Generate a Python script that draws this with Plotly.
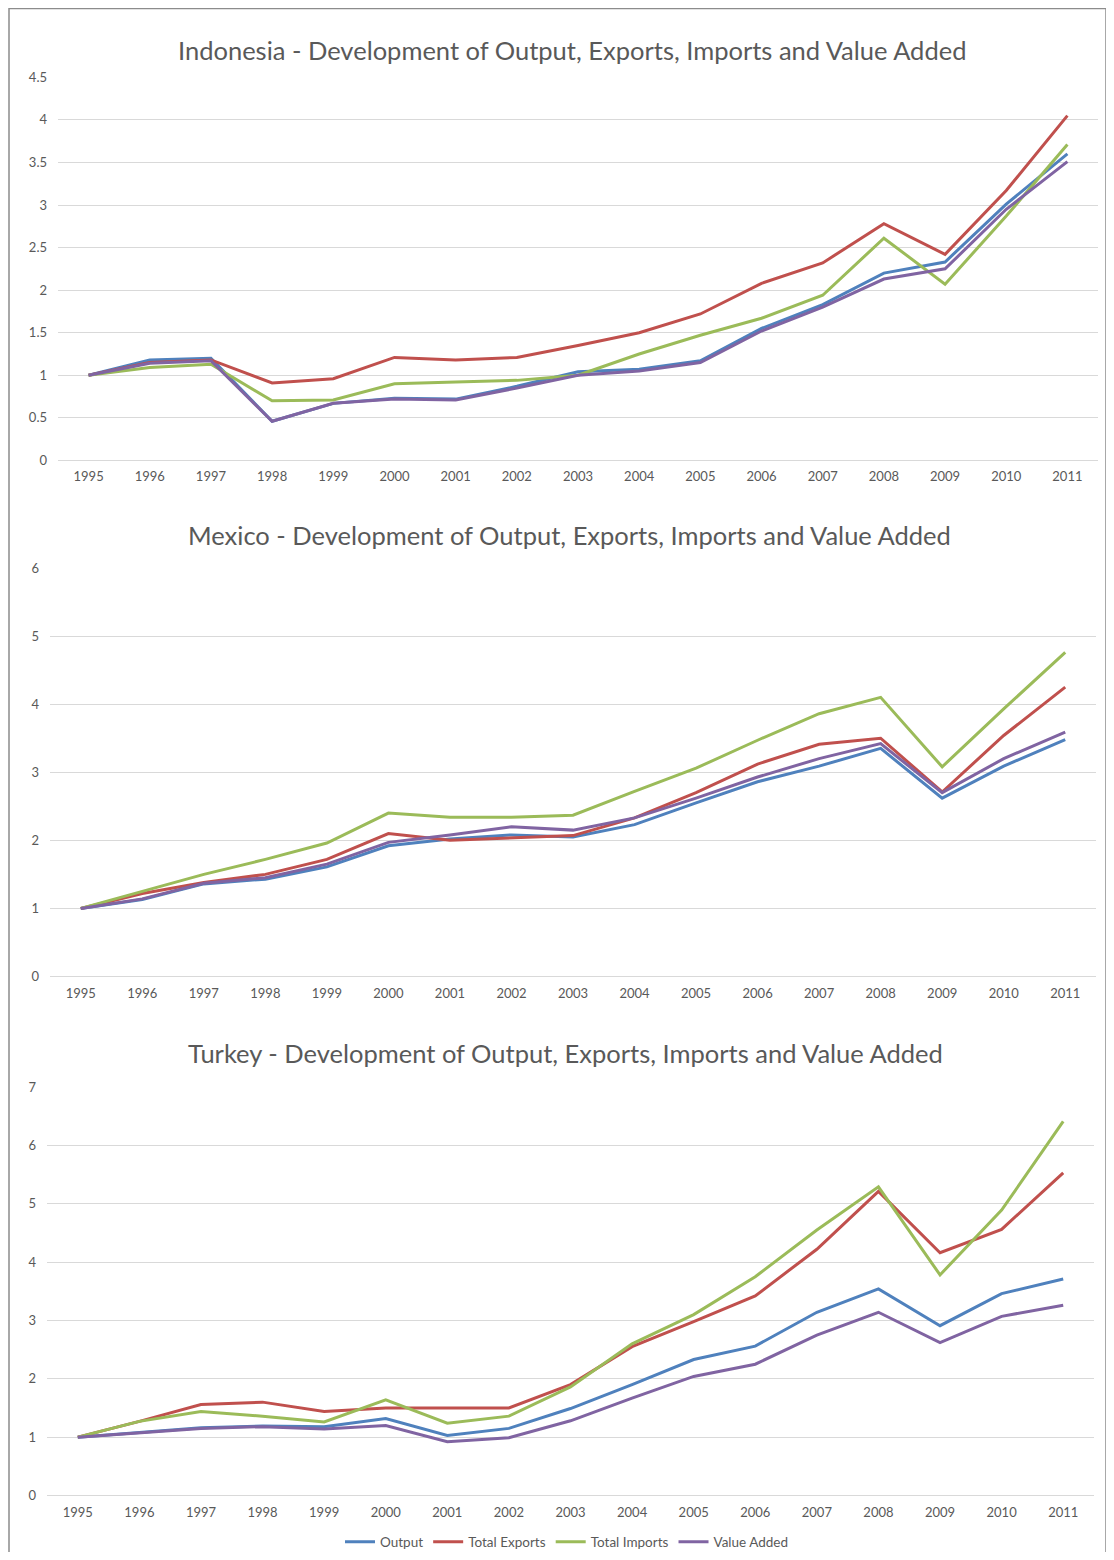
import plotly.graph_objects as go

# Excel 2007 palette
BLUE = "#4F81BD"
RED = "#C0504D"
GREEN = "#9BBB59"
PURPLE = "#8064A2"
GRID = "#D9D9D9"
TEXT = "#595959"
FONT = "Lato, 'Open Sans', sans-serif"

# page body keeps its default 8px margin, so the figure is 16px smaller
OFF = 8
W, H = 1114 - 2 * OFF, 1560 - 2 * OFF

years = [str(y) for y in range(1995, 2012)]
series_names = ["Output", "Total Exports", "Total Imports", "Value Added"]
series_colors = [BLUE, RED, GREEN, PURPLE]

# Indonesia
idn_output = [1.0, 1.18, 1.2, 0.46, 0.67, 0.73, 0.72, 0.87, 1.04, 1.07, 1.17, 1.55, 1.83, 2.2, 2.33, 3.01, 3.6]
idn_exports = [1.0, 1.15, 1.18, 0.91, 0.96, 1.21, 1.18, 1.21, 1.35, 1.5, 1.72, 2.08, 2.32, 2.78, 2.42, 3.17, 4.05]
idn_imports = [1.0, 1.09, 1.13, 0.7, 0.71, 0.9, 0.92, 0.94, 1.0, 1.25, 1.47, 1.67, 1.94, 2.61, 2.07, 2.87, 3.71]
idn_va = [1.0, 1.14, 1.17, 0.46, 0.67, 0.72, 0.71, 0.85, 1.0, 1.05, 1.15, 1.52, 1.8, 2.13, 2.25, 2.95, 3.51]

# Mexico
mex_output = [1.0, 1.13, 1.36, 1.43, 1.61, 1.92, 2.02, 2.08, 2.05, 2.23, 2.55, 2.86, 3.09, 3.35, 2.62, 3.09, 3.48]
mex_exports = [1.0, 1.22, 1.38, 1.5, 1.72, 2.1, 2.0, 2.04, 2.07, 2.33, 2.7, 3.12, 3.41, 3.5, 2.71, 3.54, 4.25]
mex_imports = [1.0, 1.25, 1.5, 1.72, 1.96, 2.4, 2.34, 2.34, 2.37, 2.72, 3.06, 3.47, 3.86, 4.1, 3.08, 3.93, 4.76]
mex_va = [1.0, 1.14, 1.37, 1.45, 1.65, 1.97, 2.08, 2.2, 2.15, 2.33, 2.62, 2.93, 3.2, 3.42, 2.7, 3.2, 3.59]

# Turkey
tur_output = [1.0, 1.08, 1.16, 1.19, 1.18, 1.32, 1.03, 1.15, 1.49, 1.9, 2.33, 2.56, 3.14, 3.54, 2.91, 3.46, 3.71]
tur_exports = [1.0, 1.27, 1.56, 1.6, 1.44, 1.5, 1.5, 1.5, 1.9, 2.55, 2.98, 3.42, 4.22, 5.21, 4.16, 4.56, 5.53]
tur_imports = [1.0, 1.27, 1.44, 1.36, 1.26, 1.64, 1.24, 1.36, 1.86, 2.6, 3.1, 3.75, 4.55, 5.29, 3.78, 4.89, 6.41]
tur_va = [1.0, 1.07, 1.15, 1.18, 1.14, 1.2, 0.92, 0.99, 1.28, 1.67, 2.04, 2.25, 2.75, 3.14, 2.62, 3.07, 3.26]

panels = [
    dict(title="Indonesia - Development of Output, Exports, Imports and Value Added",
         data=[idn_output, idn_exports, idn_imports, idn_va],
         ymax=4.5, dtick=0.5, x=(58, 1098), y=(460.4, 77.3), ty=50, tx=572),
    dict(title="Mexico - Development of Output, Exports, Imports and Value Added",
         data=[mex_output, mex_exports, mex_imports, mex_va],
         ymax=6, dtick=1, x=(50, 1096), y=(976.5, 568), ty=535, tx=569),
    dict(title="Turkey - Development of Output, Exports, Imports and Value Added",
         data=[tur_output, tur_exports, tur_imports, tur_va],
         ymax=7, dtick=1, x=(47, 1094), y=(1495.5, 1087), ty=1053, tx=565),
]


def px_x(p):
    return (p - OFF) / W


def px_y(p):
    return 1 - (p - OFF) / H


fig = go.Figure()
layout = {}
annotations = []
for i, p in enumerate(panels):
    n = "" if i == 0 else str(i + 1)
    for name, color, vals in zip(series_names, series_colors, p["data"]):
        fig.add_trace(go.Scatter(
            x=years, y=vals, name=name, mode="lines",
            line=dict(color=color, width=3),
            xaxis="x" + n, yaxis="y" + n,
            showlegend=(i == 2),
        ))
    layout["xaxis" + n] = dict(
        domain=[px_x(p["x"][0]), px_x(p["x"][1])], anchor="y" + n,
        type="category", range=[-0.5, 16.5],
        showgrid=False, showline=False, zeroline=False, ticks="",
        tickfont=dict(family=FONT, size=13, color=TEXT), ticklabelstandoff=7,
    )
    layout["yaxis" + n] = dict(
        domain=[px_y(p["y"][0]), px_y(p["y"][1])], anchor="x" + n,
        range=[0, p["ymax"]], dtick=p["dtick"], tick0=0,
        showgrid=True, gridcolor=GRID, gridwidth=1,
        zeroline=True, zerolinecolor=GRID, zerolinewidth=1,
        showline=False, ticks="",
        tickfont=dict(family=FONT, size=13, color=TEXT), ticklabelstandoff=10,
    )
    annotations.append(dict(
        text=p["title"], xref="paper", yref="paper",
        x=px_x(p["tx"]), y=px_y(p["ty"]), xanchor="center", yanchor="middle",
        showarrow=False, font=dict(family=FONT, size=25.5, color=TEXT),
    ))

fig.update_layout(
    **layout,
    width=W, height=H,
    margin=dict(l=0, r=0, t=0, b=0, autoexpand=False),
    paper_bgcolor="white", plot_bgcolor="white",
    annotations=annotations,
    legend=dict(orientation="h", x=px_x(567), xanchor="center",
                y=px_y(1542), yanchor="middle",
                font=dict(family=FONT, size=13.5, color=TEXT),
                bgcolor="rgba(0,0,0,0)", itemwidth=30),
    shapes=[dict(type="rect", xref="paper", yref="paper",
                 x0=px_x(9), x1=px_x(1106), y0=px_y(1575), y1=px_y(8.5),
                 line=dict(color="#8C8C8C", width=1.5), fillcolor="rgba(0,0,0,0)")],
)

fig.write_html("out.html")
